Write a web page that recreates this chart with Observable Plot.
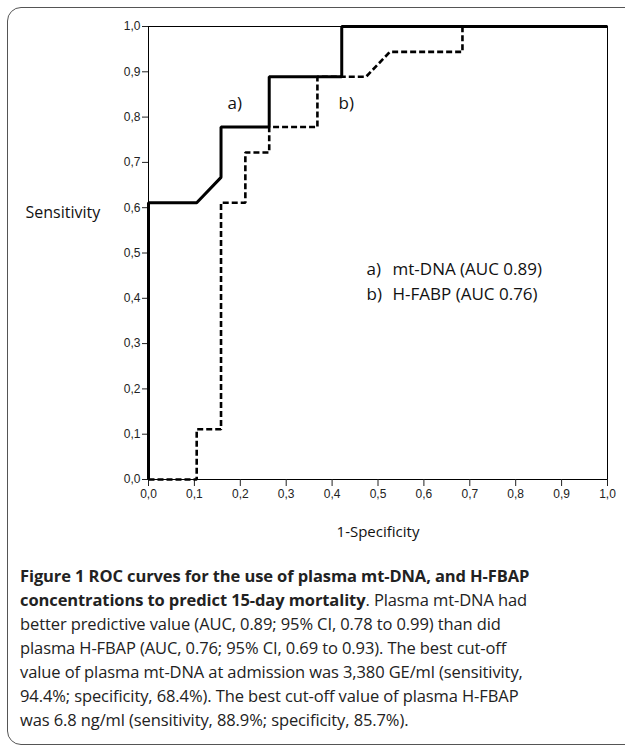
<!DOCTYPE html>
<html>
<head>
<meta charset="utf-8">
<script src="https://cdn.jsdelivr.net/npm/d3@7"></script>
<script src="https://cdn.jsdelivr.net/npm/@observablehq/plot@0.6"></script>
<style>
  html, body { margin: 0; padding: 0; background: #fff; width: 625px; height: 750px; overflow: hidden; }
  #wrap { position: relative; width: 625px; height: 750px; }
  #box { position: absolute; left: 7px; top: 7px; width: 660px; height: 738px; border: 1.5px solid #555; border-radius: 14px; box-sizing: border-box; }
  #chart { position: absolute; left: 0; top: 0; }
  #caption { position: absolute; left: 20px; top: 564px; width: 600px; font-family: "Open Sans", sans-serif; font-size: 16.5px; line-height: 24px; color: #222; white-space: nowrap; letter-spacing: -0.1px; }
  #caption b { font-weight: 700; }
</style>
</head>
<body>
<div id="wrap">
  <div id="box"></div>
  <div id="chart"></div>
  <div id="caption"></div>
</div>
<script>
// ROC curve a) mt-DNA (solid)
const fprMtDNA = [0, 0, 0.105, 0.158, 0.158, 0.263, 0.263, 0.421, 0.421, 1];
const tprMtDNA = [0, 0.611, 0.611, 0.667, 0.778, 0.778, 0.889, 0.889, 1, 1];
// ROC curve b) H-FABP (dashed)
const fprHFABP = [0, 0.105, 0.105, 0.158, 0.158, 0.211, 0.211, 0.263, 0.263, 0.368, 0.368, 0.474, 0.526, 0.684, 0.684, 1];
const tprHFABP = [0, 0, 0.111, 0.111, 0.611, 0.611, 0.722, 0.722, 0.778, 0.778, 0.889, 0.889, 0.944, 0.944, 1, 1];

const xTicks = [0, 0.1, 0.2, 0.3, 0.4, 0.5, 0.6, 0.7, 0.8, 0.9, 1.0];
const yTicks = [0, 0.1, 0.2, 0.3, 0.4, 0.5, 0.6, 0.7, 0.8, 0.9, 1.0];

// curve tags placed next to the curves (data coordinates)
const tagText = ["a)", "b)"];
const tagX = [0.172, 0.414];
const tagY = [0.831, 0.831];

// legend
const legendKeys = ["a)", "b)"];
const legendLabels = ["mt-DNA (AUC 0.89)", "H-FABP (AUC 0.76)"];
const legendX = [0.475, 0.475];
const legendY = [0.464, 0.409];

const xLabel = "1-Specificity";
const yLabel = "Sensitivity";

const captionBold = "Figure 1 ROC curves for the use of plasma mt-DNA, and H-FBAP<br>concentrations to predict 15-day mortality";
const captionRest = ". Plasma mt-DNA had<br>better predictive value (AUC, 0.89; 95% CI, 0.78 to 0.99) than did<br>plasma H-FBAP (AUC, 0.76; 95% CI, 0.69 to 0.93). The best cut-off<br>value of plasma mt-DNA at admission was 3,380 GE/ml (sensitivity,<br>94.4%; specificity, 68.4%). The best cut-off value of plasma H-FBAP<br>was 6.8 ng/ml (sensitivity, 88.9%; specificity, 85.7%).";

const solid = fprMtDNA.map((x, i) => ({x, y: tprMtDNA[i]}));
const dashed = fprHFABP.map((x, i) => ({x, y: tprHFABP[i]}));
const tags = tagText.map((t, i) => ({t, x: tagX[i], y: tagY[i]}));
const legend = legendKeys.map((k, i) => ({k, label: legendLabels[i], x: legendX[i], y: legendY[i]}));

const fmt = d => d3.format(".1f")(d).replace(".", ",");
const labelFont = "'Open Sans', sans-serif";

const chart = Plot.plot({
  width: 625,
  height: 560,
  marginLeft: 148,
  marginRight: 18,
  marginTop: 26,
  marginBottom: 81,
  style: { fontFamily: "'Liberation Sans', Arial, sans-serif", fontSize: "12px", color: "#222", background: "transparent" },
  x: { domain: [0, 1] },
  y: { domain: [0, 1] },
  marks: [
    Plot.frame({ stroke: "#000", strokeWidth: 1 }),
    Plot.axisX({ ticks: xTicks, tickFormat: fmt, tickSize: 7, tickPadding: 3, label: null, fontSize: 12 }),
    Plot.axisY({ ticks: yTicks, tickFormat: fmt, tickSize: 6, tickPadding: 2, label: null, fontSize: 12 }),
    Plot.line(dashed, { x: "x", y: "y", stroke: "#000", strokeWidth: 2.6, strokeDasharray: "6,3", strokeLinejoin: "miter", strokeLinecap: "butt" }),
    Plot.line(solid, { x: "x", y: "y", stroke: "#000", strokeWidth: 3, strokeLinejoin: "miter", strokeLinecap: "butt" }),
    Plot.text(tags, { x: "x", y: "y", text: "t", fontSize: 17, fontFamily: labelFont, fill: "#111", textAnchor: "start" }),
    Plot.text(legend, { x: "x", y: "y", text: "k", fontSize: 17, fontFamily: labelFont, fill: "#111", textAnchor: "start" }),
    Plot.text(legend, { x: "x", y: "y", text: "label", dx: 26, fontSize: 17, fontFamily: labelFont, fill: "#111", textAnchor: "start" }),
    Plot.text([yLabel], { frameAnchor: "left", dx: -123, dy: -40, fontSize: 16, fontFamily: labelFont, fill: "#111", textAnchor: "start", lineAnchor: "middle" }),
    Plot.text([xLabel], { frameAnchor: "bottom", dy: 53, fontSize: 15, fontFamily: labelFont, fill: "#111", textAnchor: "middle", lineAnchor: "middle" })
  ]
});
document.getElementById("chart").appendChild(chart);
document.getElementById("caption").innerHTML = "<b>" + captionBold + "</b>" + captionRest;
</script>
</body>
</html>
